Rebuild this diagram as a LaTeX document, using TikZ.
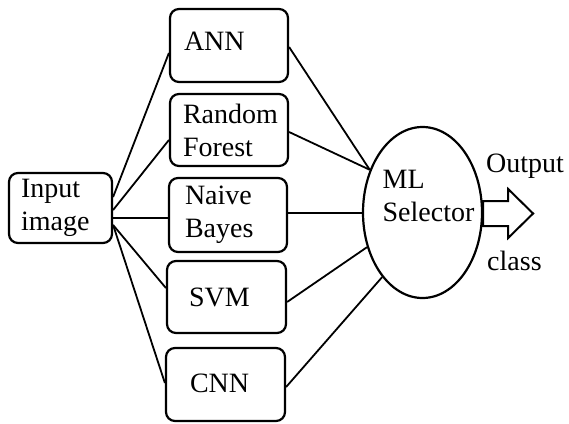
\documentclass[tikz,border=0pt]{standalone}
\usepackage{fontspec}
\setmainfont{Liberation Serif}
\usetikzlibrary{shapes.geometric}
\begin{document}
\begin{tikzpicture}[x=1pt,y=-1pt,
  txt/.style={font=\fontsize{28}{33}\selectfont},
  box/.style={txt, draw, line width=2.2pt, rounded corners=9pt, inner ysep=0pt, align=left},
  conn/.style={line width=1.8pt},
]
\useasboundingbox (0,0) rectangle (569,423);
\node[box, inner xsep=12pt, text width=79pt, minimum height=70pt] (inp) at (60.5,208) {Input\\image};
\node[box, inner xsep=14pt, text width=90pt, minimum height=73pt] (ann) at (229,45.5) {\raisebox{8pt}{ANN}};
\node[box, inner xsep=13pt, text width=92pt, minimum height=72pt] (rf) at (229,130) {Random\\Forest};
\node[box, inner xsep=16pt, text width=86pt, minimum height=74pt] (nb) at (228,215) {Naive\\Bayes};
\node[box, inner xsep=22pt, text width=75pt, minimum height=72pt] (svm) at (226.5,297) {\raisebox{-3pt}{SVM}};
\node[box, inner xsep=24pt, text width=71pt, minimum height=73pt] (cnn) at (225.5,384.5) {\raisebox{3pt}{CNN}};
\node[txt, draw, ellipse, line width=2.2pt, inner sep=0pt, minimum width=119pt, minimum height=171pt] (sel) at (422.5,212.5)
  {\smash{\makebox[0pt]{\hspace*{12pt}\raisebox{8pt}{\begin{tabular}{@{}l@{}}ML\\Selector\end{tabular}}}}};
% left connectors
\draw[conn] ([yshift=11pt]inp.east) -- ([yshift=-7.5pt]ann.west);
\draw[conn] ([yshift=-2pt]inp.east) -- ([yshift=-10pt]rf.west);
\draw[conn] ([yshift=-10pt]inp.east) -- ([yshift=-10pt]inp.east -| nb.west);
\draw[conn] ([yshift=-17pt]inp.east) -- ([yshift=9pt]svm.west);
\draw[conn] ([yshift=-17pt]inp.east) -- ([yshift=1.5pt]cnn.west);
% right connectors
\draw[conn] ([yshift=-1.5pt]ann.east) -- (sel.141);
\draw[conn] ([yshift=-2pt]rf.east) -- (sel.141);
\draw[conn] ([yshift=-0.5pt]sel.west -| nb.east) -- ([yshift=-0.5pt]sel.west);
\draw[conn] ([yshift=-5pt]svm.east) -- (sel.212);
\draw[conn] ([yshift=-2.5pt]cnn.east) -- (sel.238);
% output arrow
\draw[line width=2pt, fill=white, line join=miter]
  ([yshift=11.5pt]sel.east) -- ++(25,0) -- ++(0,-12) -- ++(25,24.5) -- ++(-25,24.5) -- ++(0,-12) -- ++(-25,0) -- cycle;
\node[txt, anchor=base west, inner sep=0pt] (outl) at (486,172) {Output};
\node[txt, anchor=base west, inner sep=0pt] (cls) at (487,270) {class};
\end{tikzpicture}
\end{document}
